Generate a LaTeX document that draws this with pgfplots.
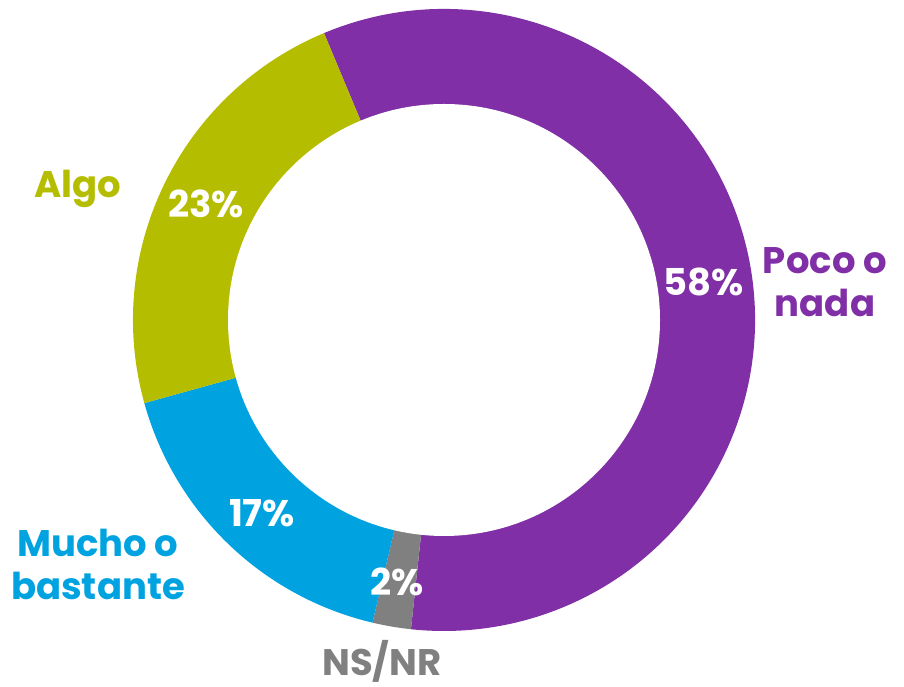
\documentclass[border=0pt]{standalone}
\usepackage{pgfplots}
\pgfplotsset{compat=1.18}
\usepackage{pgfplotstable}
\usepackage{fontspec}
\setmainfont{Poppins}
\definecolor{cPoco}{RGB}{128,47,166}
\definecolor{cNS}{RGB}{128,128,128}
\definecolor{cMucho}{RGB}{0,163,224}
\definecolor{cAlgo}{RGB}{181,189,0}
\pgfplotstableread{
label value
Poco 58
NSNR 2
Mucho 17
Algo 23
}\data
\pgfplotstablegetelem{0}{value}\of\data \let\vA\pgfplotsretval
\pgfplotstablegetelem{1}{value}\of\data \let\vB\pgfplotsretval
\pgfplotstablegetelem{2}{value}\of\data \let\vC\pgfplotsretval
\pgfplotstablegetelem{3}{value}\of\data \let\vD\pgfplotsretval
\pgfmathsetmacro\aS{112.7}
\pgfmathsetmacro\aA{\aS-3.6*\vA}
\pgfmathsetmacro\aB{\aA-3.6*\vB}
\pgfmathsetmacro\aC{\aB-3.6*\vC}
\pgfmathsetmacro\aD{\aC-3.6*\vD}
\begin{document}
\begin{tikzpicture}
\begin{axis}[
  width=904pt, height=687pt, scale only axis,
  xmin=0, xmax=904, ymin=0, ymax=687,
  axis lines=none, ticks=none, clip=false,
]
\path (axis cs:0,0) rectangle (axis cs:904,687);
\fill[overlay, cPoco] (axis cs:444,367) -- ++(\aS:311pt) arc[start angle=\aS, end angle=\aA, radius=311pt] -- cycle;
\fill[overlay, cNS] (axis cs:444,367) -- ++(\aA:311pt) arc[start angle=\aA, end angle=\aB, radius=311pt] -- cycle;
\fill[overlay, cMucho] (axis cs:444,367) -- ++(\aB:311pt) arc[start angle=\aB, end angle=\aC, radius=311pt] -- cycle;
\fill[overlay, cAlgo] (axis cs:444,367) -- ++(\aC:311pt) arc[start angle=\aC, end angle=\aD, radius=311pt] -- cycle;
\fill[overlay, white] (axis cs:444,367) circle[radius=216pt];
\tikzset{lab/.style={overlay, font=\fontsize{37}{43}\selectfont\bfseries, align=center, inner sep=0pt}}
\node[lab, text=white] at (axis cs:206,483) {23\%};
\node[lab, text=white] at (axis cs:704,405) {58\%};
\node[lab, text=white] at (axis cs:262,174) {17\%};
\node[lab, text=white] at (axis cs:397,105) {2\%};
\node[lab, text=cAlgo] at (axis cs:78,498) {Algo};
\node[lab, text=cPoco] at (axis cs:825,405) {Poco o\\nada};
\node[lab, text=cMucho] at (axis cs:98,123) {Mucho o\\bastante};
\node[lab, text=cNS] at (axis cs:382,26) {NS/NR};
\end{axis}
\end{tikzpicture}
\end{document}
